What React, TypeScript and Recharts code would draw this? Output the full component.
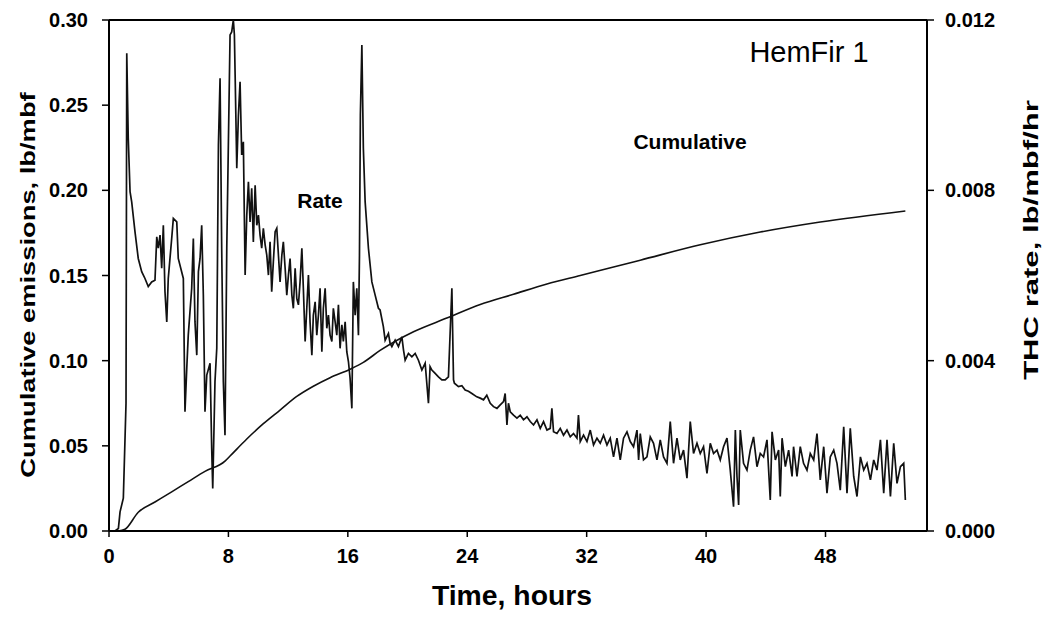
import React from "react"
import {
  ComposedChart,
  Line,
  XAxis,
  YAxis,
  ReferenceLine,
} from "recharts"

// THC rate trace, lb/mbf/hr vs time (h)
const rateHours = [
  0, 0.4, 0.63, 0.74, 0.96, 1.14, 1.19, 1.29, 1.41, 1.52, 1.74, 1.96, 2.19, 2.41, 2.63, 2.86, 3.08, 3.2, 3.3, 3.42,
  3.53, 3.64, 3.75, 3.87, 3.97, 4.2, 4.31, 4.54, 4.64, 4.98, 5.09, 5.21, 5.31, 5.54, 5.65, 5.76, 5.88, 5.99, 6.1, 6.21,
  6.32, 6.43, 6.55, 6.77, 6.88, 6.95, 7.1, 7.22, 7.33, 7.44, 7.55, 7.66, 7.77, 7.89, 8.11, 8.22, 8.33, 8.4, 8.45, 8.56,
  8.67, 8.78, 8.89, 9.0, 9.12, 9.23, 9.34, 9.45, 9.56, 9.67, 9.79, 9.9, 10.01, 10.12, 10.23, 10.34, 10.46, 10.57, 10.68, 10.79,
  10.9, 11.01, 11.13, 11.24, 11.35, 11.46, 11.58, 11.68, 11.8, 11.91, 12.02, 12.13, 12.25, 12.35, 12.47, 12.58, 12.69, 12.8, 12.92, 13.02,
  13.14, 13.25, 13.36, 13.47, 13.59, 13.69, 13.81, 13.92, 14.03, 14.14, 14.26, 14.36, 14.48, 14.59, 14.7, 14.81, 14.93, 15.03, 15.15, 15.26,
  15.37, 15.48, 15.6, 15.7, 15.82, 15.93, 16.04, 16.15, 16.27, 16.37, 16.49, 16.6, 16.71, 16.78, 16.84, 16.94, 17.04, 17.16, 17.38, 17.61,
  17.83, 18.05, 18.16, 18.38, 18.5, 18.72, 18.83, 18.95, 19.17, 19.39, 19.62, 19.73, 19.84, 20.06, 20.29, 20.51, 20.73, 20.96, 21.18, 21.4,
  21.51, 21.63, 21.85, 22.07, 22.3, 22.52, 22.74, 22.97, 23.08, 23.14, 23.41, 23.64, 23.86, 24.08, 24.31, 24.64, 24.87, 25.09, 25.31, 25.54,
  25.76, 25.99, 26.21, 26.43, 26.54, 26.66, 26.76, 26.88, 27.1, 27.33, 27.55, 27.77, 28.0, 28.22, 28.44, 28.67, 28.89, 29.11, 29.34, 29.56,
  29.67, 29.78, 30.01, 30.23, 30.45, 30.68, 30.9, 31.12, 31.35, 31.45, 31.57, 31.79, 32.02, 32.24, 32.46, 32.69, 32.91, 33.13, 33.36, 33.58,
  33.8, 34.03, 34.25, 34.47, 34.7, 34.92, 35.14, 35.37, 35.48, 35.59, 35.81, 36.04, 36.26, 36.48, 36.71, 36.93, 37.15, 37.38, 37.6, 37.82,
  38.05, 38.27, 38.49, 38.72, 38.94, 39.16, 39.39, 39.61, 39.83, 40.06, 40.28, 40.5, 40.73, 40.95, 41.17, 41.4, 41.62, 41.84, 41.96, 42.07,
  42.18, 42.29, 42.51, 42.74, 42.96, 43.18, 43.41, 43.63, 43.85, 44.08, 44.3, 44.42, 44.64, 44.86, 44.97, 45.09, 45.31, 45.53, 45.76, 45.86,
  46.09, 46.31, 46.53, 46.76, 46.98, 47.21, 47.43, 47.65, 47.88, 48.1, 48.32, 48.55, 48.77, 48.99, 49.22, 49.44, 49.66, 49.89, 50.11, 50.34,
  50.56, 50.78, 51.01, 51.23, 51.45, 51.68, 51.9, 52.12, 52.35, 52.57, 52.79, 53.02, 53.24, 53.35,
]
const rateValues = [
  0, 0, 0.00006, 0.00045, 0.00077, 0.003, 0.01122, 0.00922, 0.00797, 0.00773, 0.00703, 0.0064, 0.00609, 0.00593, 0.00574, 0.00585, 0.00589, 0.00691, 0.00664, 0.00695,
  0.00617, 0.00718, 0.00562, 0.00491, 0.00593, 0.00687, 0.00734, 0.00726, 0.0064, 0.00593, 0.0028, 0.00382, 0.0046, 0.0057, 0.00687, 0.00491, 0.00413, 0.00609, 0.0064, 0.00718,
  0.00554, 0.0028, 0.00366, 0.00394, 0.00194, 0.001, 0.00351, 0.00429, 0.00906, 0.01063, 0.00664, 0.00351, 0.00225, 0.00664, 0.01165, 0.01172, 0.012, 0.01165, 0.01071, 0.00852,
  0.00977, 0.01055, 0.00883, 0.00914, 0.00601, 0.00742, 0.0082, 0.00726, 0.00805, 0.00679, 0.00812, 0.00718, 0.00742, 0.00695, 0.00664, 0.00711, 0.00672, 0.00648, 0.00601, 0.00679,
  0.00562, 0.00632, 0.00703, 0.00711, 0.00648, 0.00585, 0.00648, 0.00679, 0.00617, 0.00554, 0.00601, 0.0064, 0.00554, 0.00523, 0.00617, 0.00546, 0.00531, 0.00585, 0.00664, 0.0057,
  0.00445, 0.00523, 0.00601, 0.00491, 0.00413, 0.00507, 0.00538, 0.0046, 0.00507, 0.0057, 0.00421, 0.00523, 0.0057, 0.00476, 0.00507, 0.0046, 0.00445, 0.00523, 0.00491, 0.0046,
  0.00531, 0.00429, 0.00484, 0.00445, 0.00491, 0.00421, 0.00398, 0.00359, 0.00288, 0.00585, 0.00507, 0.0057, 0.0046, 0.00648, 0.00977, 0.01141, 0.00899, 0.00773, 0.00664, 0.00585,
  0.00554, 0.00523, 0.00519, 0.0048, 0.00448, 0.00464, 0.00441, 0.00433, 0.00448, 0.00433, 0.00456, 0.00425, 0.00401, 0.00417, 0.00409, 0.00417, 0.00401, 0.00378, 0.00394, 0.003,
  0.00386, 0.00378, 0.0037, 0.00362, 0.00355, 0.00355, 0.00362, 0.0057, 0.00355, 0.00347, 0.00339, 0.00341, 0.00331, 0.00328, 0.00323, 0.00315, 0.00312, 0.00308, 0.00319, 0.003,
  0.00292, 0.00288, 0.00296, 0.00304, 0.00323, 0.00249, 0.003, 0.0028, 0.00272, 0.00265, 0.00272, 0.00261, 0.00268, 0.00257, 0.00249, 0.00261, 0.00241, 0.00257, 0.00237, 0.00241,
  0.00288, 0.00233, 0.00229, 0.00241, 0.00225, 0.00237, 0.00221, 0.00229, 0.00218, 0.00272, 0.0021, 0.00225, 0.0021, 0.00237, 0.00202, 0.00218, 0.00206, 0.00225, 0.00202, 0.00218,
  0.00174, 0.00218, 0.00167, 0.00218, 0.00233, 0.0021, 0.00198, 0.00237, 0.00167, 0.00229, 0.00167, 0.00174, 0.00221, 0.00206, 0.00167, 0.00214, 0.00174, 0.00159, 0.00257, 0.00159,
  0.00218, 0.00167, 0.0019, 0.00124, 0.00257, 0.00182, 0.00206, 0.00182, 0.00198, 0.00135, 0.00206, 0.00182, 0.0019, 0.00167, 0.00198, 0.00218, 0.00143, 0.00057, 0.00237, 0.00128,
  0.00061, 0.00237, 0.00159, 0.00143, 0.0019, 0.00221, 0.00151, 0.00182, 0.00174, 0.00214, 0.00073, 0.00233, 0.00167, 0.0019, 0.00081, 0.00218, 0.00151, 0.0019, 0.00128, 0.00198,
  0.00128, 0.00198, 0.00159, 0.00143, 0.00182, 0.00167, 0.00229, 0.0012, 0.00198, 0.00089, 0.00174, 0.0019, 0.00159, 0.00096, 0.00245, 0.00089, 0.00241, 0.00128, 0.00081, 0.00174,
  0.00143, 0.00159, 0.0012, 0.00167, 0.00143, 0.00214, 0.00089, 0.00214, 0.00081, 0.00206, 0.00112, 0.00151, 0.00159, 0.00073,
]

// cumulative emissions, lb/mbf
const cumHours = [
  0.6, 1.07, 1.96, 3.08, 4.2, 5.31, 6.43, 7.77, 8.11, 9.23, 10.34, 11.46, 12.58, 13.69, 14.81, 16.15, 17.04, 18.16,
  20.4, 22.63, 24.87, 27.1, 29.34, 31.57, 33.8, 35.59, 39.61, 43.63, 47.65, 53.35,
]
const cumValues = [
  0, 0.001, 0.011, 0.017, 0.023, 0.029, 0.035, 0.041, 0.044, 0.054, 0.063, 0.071, 0.079, 0.085, 0.09, 0.095, 0.099, 0.106,
  0.117, 0.125, 0.133, 0.139, 0.145, 0.15, 0.155, 0.159, 0.168, 0.1755, 0.1814, 0.1879,
]

const hourTicks = [0, 8, 16, 24, 32, 40, 48]
const cumTicks = [0, 0.05, 0.1, 0.15, 0.2, 0.25, 0.3]
const rateTicks = [0, 0.004, 0.008, 0.012]

const rateData = rateHours.map((h, i) => ({ h, rate: rateValues[i] }))
const cumData = cumHours.map((h, i) => ({ h, cum: cumValues[i] }))

const FONT = '"Liberation Sans", Arial, sans-serif'
const tickStyle = { fontSize: 20, fontWeight: 700, fill: "#000", fontFamily: FONT }

const overlay = (cx: number, cy: number, extra: React.CSSProperties): React.CSSProperties => ({
  position: "absolute",
  left: cx,
  top: cy,
  whiteSpace: "nowrap",
  fontFamily: FONT,
  color: "#000",
  lineHeight: 1,
  ...extra,
})

export default function App() {
  return (
    <div style={{ position: "relative", width: 1044, height: 622, background: "#fff" }}>
      <style>{`body{margin:0}`}</style>
      <ComposedChart width={1044} height={622} margin={{ top: 20, right: 0, left: 0, bottom: 0 }}>
        <XAxis
          xAxisId="x"
          type="number"
          dataKey="h"
          domain={[0, 54.8]}
          ticks={hourTicks}
          height={91}
          tickSize={6}
          tickMargin={12}
          tick={tickStyle}
          axisLine={{ stroke: "#000", strokeWidth: 2 }}
          tickLine={{ stroke: "#000", strokeWidth: 1.5 }}
          allowDataOverflow
        />
        <YAxis
          yAxisId="left"
          domain={[0, 0.3]}
          ticks={cumTicks}
          width={109}
          tickSize={7}
          tickMargin={14}
          tick={tickStyle}
          tickFormatter={(v: number) => v.toFixed(2)}
          axisLine={{ stroke: "#000", strokeWidth: 2 }}
          tickLine={{ stroke: "#000", strokeWidth: 1.5 }}
          allowDataOverflow
        />
        <YAxis
          yAxisId="right"
          orientation="right"
          domain={[0, 0.012]}
          ticks={rateTicks}
          width={117}
          tickSize={7}
          tickMargin={11}
          tick={tickStyle}
          tickFormatter={(v: number) => v.toFixed(3)}
          axisLine={{ stroke: "#000", strokeWidth: 2 }}
          tickLine={{ stroke: "#000", strokeWidth: 1.5 }}
          allowDataOverflow
        />
        <ReferenceLine xAxisId="x" yAxisId="left" y={0.3} stroke="#000" strokeWidth={2} />
        <Line
          xAxisId="x"
          yAxisId="right"
          data={rateData}
          dataKey="rate"
          type="linear"
          stroke="#111"
          strokeWidth={1.7}
          dot={false}
          isAnimationActive={false}
        />
        <Line
          xAxisId="x"
          yAxisId="left"
          data={cumData}
          dataKey="cum"
          type="monotone"
          stroke="#111"
          strokeWidth={1.6}
          dot={false}
          isAnimationActive={false}
        />
      </ComposedChart>

      <div style={overlay(27, 285, { fontSize: 21, fontWeight: 700, transform: "translate(-50%,-50%) rotate(-90deg) scaleX(1.3)" })}>
        Cumulative emissions, lb/mbf
      </div>
      <div style={overlay(1030, 240, { fontSize: 21, fontWeight: 700, transform: "translate(-50%,-50%) rotate(-90deg) scaleX(1.48)" })}>
        THC rate, lb/mbf/hr
      </div>
      <div style={overlay(512, 596, { fontSize: 27, fontWeight: 700, transform: "translate(-50%,-50%) scaleX(1.05)" })}>Time, hours</div>
      <div style={overlay(809, 52, { fontSize: 29, fontWeight: 400, transform: "translate(-50%,-50%)" })}>HemFir 1</div>
      <div style={overlay(690, 141, { fontSize: 21, fontWeight: 700, transform: "translate(-50%,-50%)" })}>Cumulative</div>
      <div style={overlay(320, 200, { fontSize: 21, fontWeight: 700, transform: "translate(-50%,-50%)" })}>Rate</div>
    </div>
  )
}
